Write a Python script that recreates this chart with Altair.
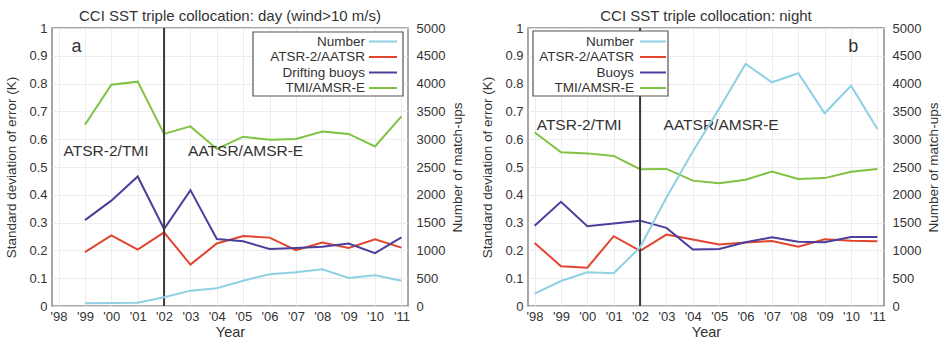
import altair as alt
import pandas as pd

FONT = "Liberation Sans"

years_a = list(range(1999, 2012))
years_b = list(range(1998, 2012))

# Panel a (day, wind > 10 m/s)
number_a = [48, 52, 58, 156, 276, 318, 455, 570, 606, 660, 504, 552, 455]
atsr_a = [0.194, 0.254, 0.203, 0.265, 0.149, 0.225, 0.252, 0.246, 0.201, 0.228, 0.209, 0.240, 0.210]
buoys_a = [0.309, 0.379, 0.466, 0.277, 0.417, 0.241, 0.233, 0.205, 0.209, 0.213, 0.225, 0.190, 0.247]
tmi_a = [0.652, 0.796, 0.807, 0.619, 0.646, 0.565, 0.609, 0.598, 0.601, 0.628, 0.619, 0.574, 0.682]

# Panel b (night)
number_b = [221, 450, 606, 588, 1055, 1950, 2780, 3550, 4353, 4023, 4185, 3466, 3962, 3183]
atsr_b = [0.227, 0.143, 0.138, 0.251, 0.198, 0.257, 0.239, 0.221, 0.228, 0.234, 0.213, 0.240, 0.235, 0.233]
buoys_b = [0.289, 0.375, 0.287, 0.297, 0.307, 0.281, 0.203, 0.205, 0.229, 0.247, 0.231, 0.229, 0.248, 0.248]
tmi_b = [0.625, 0.553, 0.549, 0.540, 0.492, 0.493, 0.451, 0.442, 0.454, 0.484, 0.457, 0.460, 0.483, 0.493]

series_colors = ["#8fd0e4", "#e2452f", "#4a3f9c", "#80c242"]
split_year = 2002
W, H = 356, 278

year_ticks = list(range(1998, 2012))
err_ticks = [round(i * 0.1, 1) for i in range(11)]
num_ticks = list(range(0, 5001, 500))


def panel(title, years, number, atsr, buoys_name, buoys, tmi, letter, letter_x,
          era_left, era_right, era_y, box):
    names = ["Number", "ATSR-2/AATSR", buoys_name, "TMI/AMSR-E"]
    err = pd.DataFrame({
        "Year": years * 3,
        "value": atsr + buoys + tmi,
        "series": [names[1]] * len(years) + [names[2]] * len(years) + [names[3]] * len(years),
    })
    num = pd.DataFrame({"Year": years, "n": number, "series": ["Number"] * len(years)})
    texts = pd.DataFrame({
        "Year": [era_left, era_right],
        "value": [era_y, era_y],
        "t": ["ATSR-2/TMI", "AATSR/AMSR-E"],
    })
    leg = pd.DataFrame({"series": names, "idx": [0, 1, 2, 3]})

    cscale = alt.Scale(domain=names, range=series_colors)
    xscale = alt.Scale(domain=[1997.75, 2011.25], nice=False, zero=False)
    xaxis = alt.Axis(values=year_ticks, tickCount=14,
                     labelExpr="\"'\" + substring(toString(datum.value), 2, 4)",
                     title="Year", grid=True, ticks=False, domain=False,
                     labelPadding=4, titlePadding=2, labelOverlap=False,
                     labelFontSize=13, titleFontSize=14.5, titleFontWeight=400)
    X = alt.X("Year:Q", scale=xscale, axis=xaxis)
    color = alt.Color("series:N", scale=cscale, legend=None)

    yscale = alt.Scale(domain=[0, 1], nice=False)
    yaxis = alt.Axis(values=err_ticks, tickCount=11, format="~g",
                     title="Standard deviation of error (K)", grid=True,
                     ticks=False, domain=False, labelPadding=5,
                     titlePadding=10, labelOverlap=False,
                     labelFontSize=13, titleFontSize=13.5, titleFontWeight=400)
    lines = alt.Chart(err).mark_line(strokeWidth=2).encode(
        x=X, y=alt.Y("value:Q", scale=yscale, axis=yaxis), color=color)

    rule = alt.Chart(pd.DataFrame({"Year": [split_year]})).mark_rule(
        color="#3a3a3a", strokeWidth=2).encode(x=X)

    era = alt.Chart(texts).mark_text(align="left", baseline="middle", fontSize=15.5,
                                     font=FONT, color="#333").encode(
        x=X, y=alt.Y("value:Q", scale=yscale, axis=yaxis), text="t:N")

    lett = alt.Chart(pd.DataFrame({"Year": [letter_x], "value": [0.915], "t": [letter]})).mark_text(
        align="center", baseline="alphabetic", fontSize=18, font=FONT, color="#333").encode(
        x=X, y=alt.Y("value:Q", scale=yscale, axis=yaxis), text="t:N")

    left = alt.layer(lines, rule, era, lett)

    right = alt.Chart(num).mark_line(strokeWidth=2).encode(
        x=X,
        y=alt.Y("n:Q", scale=alt.Scale(domain=[0, 5000], nice=False),
                axis=alt.Axis(values=num_ticks, tickCount=11, format="d",
                              orient="right", title="Number of match-ups",
                              grid=False, ticks=False, domain=False,
                              labelPadding=8, titlePadding=6, labelOverlap=False,
                              labelFontSize=13, titleFontSize=13.5, titleAngle=270,
                              titleBaseline="top", titleFontWeight=400)),
        color=color)

    # key box (gnuplot style: label, then line sample)
    bx0, bx1, by0, by1, tx, sx0, sx1 = box
    key_box = alt.Chart(pd.DataFrame({"k": [0]})).mark_rect(
        fill="white", stroke="#555", strokeWidth=1.2).encode(
        x=alt.value(bx0), x2=alt.value(bx1), y=alt.value(by0), y2=alt.value(by1))
    ky = alt.Y("idx:O", scale=alt.Scale(type="point", range=[13.5, 60], padding=0),
               axis=None)
    key_text = alt.Chart(leg).mark_text(align="right", baseline="middle", fontSize=13.5,
                                        font=FONT, color="#333").encode(
        x=alt.value(tx), y=ky, text="series:N")
    key_line = alt.Chart(leg).mark_rule(strokeWidth=2).encode(
        x=alt.value(sx0), x2=alt.value(sx1), y=ky, color=color)
    key = alt.layer(key_box, key_text, key_line)

    return alt.layer(left, right, key).resolve_scale(y="independent").properties(
        width=W, height=H,
        title=alt.TitleParams(title, fontSize=15, font=FONT, color="#333",
                              fontWeight="normal", anchor="middle", offset=-2))


pa = panel("CCI SST triple collocation: day (wind>10 m/s)", years_a, number_a, atsr_a,
           "Drifting buoys", buoys_a, tmi_a, "a", 1998.68, 1998.19, 2002.91, 0.557,
           (201, 351, 4, 68, 313, 317, 345))
pb = panel("CCI SST triple collocation: night", years_b, number_b, atsr_b,
           "Buoys", buoys_b, tmi_b, "b", 2010.08, 1998.08, 2002.89, 0.651,
           (5, 140, 3, 68, 106, 112, 138))

chart = alt.hconcat(pa, pb, spacing=14).resolve_scale(color="independent").properties(
    padding={"left": 4, "top": 8, "right": 1, "bottom": 0}, background="white"
).configure_view(stroke="#8a8a8a", strokeWidth=1.5).configure_axis(
    labelFont=FONT, titleFont=FONT, labelColor="#333", titleColor="#333",
    gridColor="#e8e8e8", gridWidth=0.8, labelOverlap=False
)

chart.save("out.html", embed_options={"renderer": "svg", "actions": False})
